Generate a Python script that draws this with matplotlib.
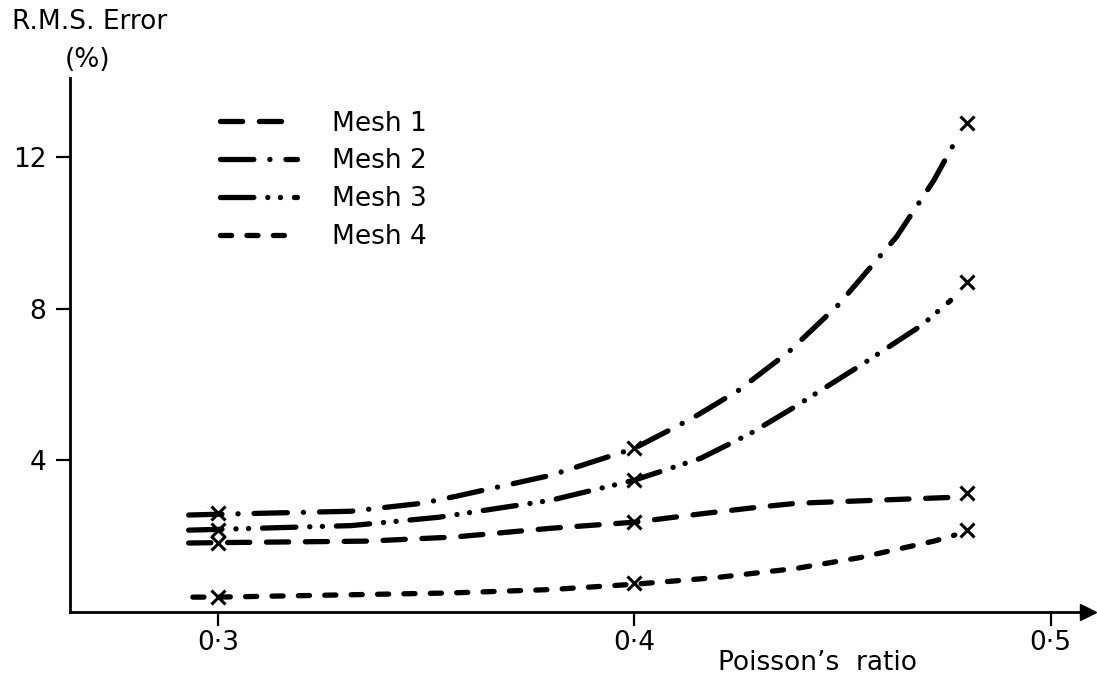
import matplotlib
matplotlib.use("Agg")
import matplotlib.pyplot as plt

plt.rcParams['font.family'] = ['DejaVu Sans']
plt.rcParams['lines.scale_dashes'] = False

# points
mesh1_x = [0.293, 0.300, 0.336, 0.357, 0.380, 0.400, 0.416, 0.430, 0.439, 0.458, 0.477]
mesh1_y = [1.81, 1.82, 1.86, 1.97, 2.20, 2.36, 2.58, 2.76, 2.86, 2.94, 3.02]
mesh2_x = [0.293, 0.300, 0.332, 0.349, 0.357, 0.380, 0.400, 0.414, 0.425, 0.437, 0.449, 0.463, 0.472, 0.477]
mesh2_y = [2.55, 2.57, 2.65, 2.86, 3.04, 3.60, 4.31, 5.11, 5.84, 6.85, 8.10, 9.90, 11.40, 12.40]
mesh3_x = [0.293, 0.300, 0.332, 0.353, 0.380, 0.400, 0.416, 0.428, 0.438, 0.455, 0.469, 0.476]
mesh3_y = [2.15, 2.17, 2.27, 2.49, 2.94, 3.47, 4.05, 4.71, 5.37, 6.55, 7.56, 8.22]
mesh4_x = [0.294, 0.300, 0.356, 0.380, 0.400, 0.420, 0.439, 0.454, 0.472, 0.477]
mesh4_y = [0.38, 0.38, 0.49, 0.58, 0.72, 0.90, 1.14, 1.42, 1.86, 2.02]

# computed points (crosses)
pts_x = [0.3, 0.4, 0.48]
mesh1_pts = [1.81, 2.36, 3.13]
mesh2_pts = [2.60, 4.31, 12.92]
mesh3_pts = [2.15, 3.47, 8.72]
mesh4_pts = [0.38, 0.75, 2.15]

labels = ['Mesh 1', 'Mesh 2', 'Mesh 3', 'Mesh 4']
xticks = [0.3, 0.4, 0.5]
xticklabels = ['0\u00b73', '0\u00b74', '0\u00b75']
yticks = [4, 8, 12]

# dash patterns in points (round caps add about one line width to each dash)
styles = [
    (0, (16, 12)),
    (0, (24, 11.5, 0.1, 11.5)),
    (0, (24, 10, 0.1, 9, 0.1, 10)),
    (0, (8, 11)),
]

fig = plt.figure(figsize=(10.97, 6.8), dpi=100)
ax = fig.add_axes([70 / 1097, 68.5 / 680, 1018 / 1097, 533.5 / 680])

curves = [(mesh1_x, mesh1_y), (mesh2_x, mesh2_y), (mesh3_x, mesh3_y), (mesh4_x, mesh4_y)]
for (cx, cy), ls, lab in zip(curves, styles, labels):
    ax.plot(cx, cy, color='black', lw=3.8, linestyle=ls,
            dash_capstyle='round', label=lab)

for p in [mesh1_pts, mesh2_pts, mesh3_pts, mesh4_pts]:
    ax.plot(pts_x, p, linestyle='none', marker='x', color='black',
            markersize=10, mew=2.2)

ax.set_xlim(0.2645, 0.5090)
ax.set_ylim(0, 14.1)

for s in ['top', 'right']:
    ax.spines[s].set_visible(False)
for s in ['left', 'bottom']:
    ax.spines[s].set_linewidth(2)

# arrow heads on the axes
ax.plot(1, 0, '>k', markersize=11, transform=ax.get_yaxis_transform(), clip_on=False)
ax.plot(0, 1, '^k', markersize=11, transform=ax.get_xaxis_transform(), clip_on=False)

ax.set_xticks(xticks)
ax.set_xticklabels(xticklabels)
ax.set_yticks(yticks)
ax.tick_params(axis='x', direction='out', length=10, width=1.6, pad=3, labelsize=19)
ax.tick_params(axis='y', direction='out', length=10, width=1.6, pad=7, labelsize=19)

fig.text(90 / 1097, 1 - 22 / 680, 'R.M.S. Error', ha='center', va='center', fontsize=19)
fig.text(88 / 1097, 1 - 60 / 680, '(%)', ha='center', va='center', fontsize=19)
fig.text(817 / 1097, 1 - 663 / 680, 'Poisson\u2019s  ratio', ha='center', va='center', fontsize=19)

ax.legend(loc='upper left', bbox_to_anchor=(139 / 1018, 1 - (100 - 78) / 533.5),
          frameon=False, fontsize=19, handlelength=2.95, handletextpad=1.3,
          labelspacing=0.45, borderaxespad=0)

fig.savefig('out.png', dpi=100)
